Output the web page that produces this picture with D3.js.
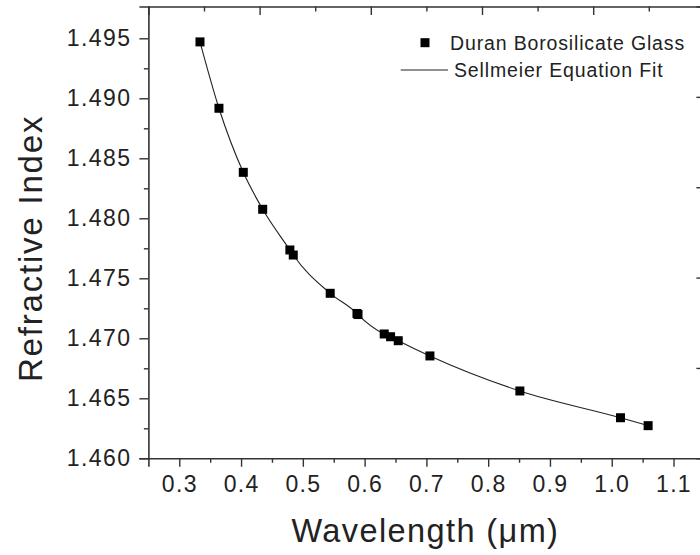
<!DOCTYPE html>
<html>
<head>
<meta charset="utf-8">
<script src="https://cdn.jsdelivr.net/npm/d3@7"></script>
<style>
  html, body { margin: 0; padding: 0; background: #fff; }
  svg { display: block; font-family: "Liberation Sans", Arial, sans-serif; }
  .axis path, .axis line { stroke: #333; }
  .axis text { fill: #222; }
</style>
</head>
<body>
<svg id="chart" width="700" height="555"></svg>
<script>
// Measured refractive index of Duran borosilicate glass at spectral lines (µm)
const wavelength = [0.3335, 0.3642, 0.4036, 0.4350, 0.4790, 0.4845, 0.5443, 0.5876, 0.5893,
                    0.6317, 0.6420, 0.6544, 0.7057, 0.8513, 1.0142, 1.0589];
const refractiveIndex = [1.49470, 1.48917, 1.48383, 1.48075, 1.47736, 1.47694, 1.47375, 1.47207, 1.47198,
                         1.47036, 1.47013, 1.46980, 1.46853, 1.46561, 1.46338, 1.46272];

// Axis ticks
const xTicks = [0.3, 0.4, 0.5, 0.6, 0.7, 0.8, 0.9, 1.0, 1.1];
const xMinor = [0.35, 0.45, 0.55, 0.65, 0.75, 0.85, 0.95, 1.05, 1.15];
const yTicks = [1.460, 1.465, 1.470, 1.475, 1.480, 1.485, 1.490, 1.495];
const yMinor = [1.4625, 1.4675, 1.4725, 1.4775, 1.4825, 1.4875, 1.4925];
const topTicks = [1, 2, 3, 4];
const topMinor = [0.5, 1.5, 2.5, 3.5, 4.5];
const rightTicks = [1, 2, 3, 4];

const legendLabels = ["Duran Borosilicate Glass", "Sellmeier Equation Fit"];

const svg = d3.select("#chart");
const plotLeft = 148.4, plotRight = 704.4, plotTop = 6.5, plotBottom = 458.3;

const x = d3.scaleLinear().domain([0.25, 1.15]).range([plotLeft, plotRight]);
const y = d3.scaleLinear().domain([1.46, 1.49765]).range([plotBottom, plotTop]);
const xTop = d3.scaleLinear().domain([0, 5]).range([plotLeft, plotRight]);
const yRight = d3.scaleLinear().domain([0, 5]).range([plotTop, plotBottom]);

const points = wavelength.map((w, i) => ({ w, n: refractiveIndex[i] }));

// Fit curve through the measurements
svg.append("path")
  .datum(points)
  .attr("fill", "none")
  .attr("stroke", "#222")
  .attr("stroke-width", 1.1)
  .attr("d", d3.line().x(d => x(d.w)).y(d => y(d.n)).curve(d3.curveMonotoneX));

// Data markers
const sq = 9;
svg.append("g").selectAll("rect")
  .data(points)
  .join("rect")
  .attr("x", d => x(d.w) - sq / 2)
  .attr("y", d => y(d.n) - sq / 2)
  .attr("width", sq)
  .attr("height", sq)
  .attr("fill", "#000");

// Bottom axis
const gx = svg.append("g").attr("class", "axis").attr("transform", `translate(0,${plotBottom})`);
gx.call(d3.axisBottom(x).tickValues(xTicks).tickSize(8.5).tickPadding(9)
  .tickFormat(d3.format(".1f")))
  .call(g => g.selectAll("text").attr("font-size", 23).attr("letter-spacing", "1.3px"));
gx.append("g").call(d3.axisBottom(x).tickValues(xMinor).tickSize(4.5).tickFormat(""))
  .call(g => g.select(".domain").remove());

// Left axis
const gy = svg.append("g").attr("class", "axis").attr("transform", `translate(${plotLeft},0)`);
gy.call(d3.axisLeft(y).tickValues(yTicks).tickSize(9).tickPadding(8)
  .tickFormat(d3.format(".3f")))
  .call(g => g.selectAll("text").attr("font-size", 23).attr("letter-spacing", "1.4px"));
gy.append("g").call(d3.axisLeft(y).tickValues(yMinor).tickSize(4.5).tickFormat(""))
  .call(g => g.select(".domain").remove());

// Top frame axis (inward ticks)
const gt = svg.append("g").attr("class", "axis").attr("transform", `translate(0,${plotTop})`);
gt.call(d3.axisBottom(xTop).tickValues(topTicks).tickSize(8.5).tickFormat(""));
gt.append("g").call(d3.axisBottom(xTop).tickValues(topMinor).tickSize(5).tickFormat(""))
  .call(g => g.select(".domain").remove());

// Right frame axis (inward ticks)
const gr = svg.append("g").attr("class", "axis").attr("transform", `translate(${plotRight},0)`);
gr.call(d3.axisLeft(yRight).tickValues(rightTicks).tickSize(8).tickFormat(""));

svg.selectAll(".axis path.domain").attr("stroke-width", 1.6);
svg.selectAll(".axis line").attr("stroke-width", 1.4);

// Axis titles
svg.append("text")
  .attr("x", (plotLeft + plotRight) / 2 - 1)
  .attr("y", 542)
  .attr("text-anchor", "middle")
  .attr("font-size", 32.5)
  .attr("letter-spacing", "1.4px")
  .attr("fill", "#222")
  .text("Wavelength (\u03bcm)");

svg.append("text")
  .attr("transform", `translate(42,${(plotTop + plotBottom) / 2 + 16}) rotate(-90)`)
  .attr("text-anchor", "middle")
  .attr("font-size", 33)
  .attr("letter-spacing", "1.8px")
  .attr("fill", "#222")
  .text("Refractive Index");

// Legend
const lg = svg.append("g");
lg.append("rect").attr("x", 425 - sq / 2).attr("y", 42.7 - sq / 2)
  .attr("width", sq).attr("height", sq).attr("fill", "#000");
lg.append("text").attr("x", 450).attr("y", 50).attr("font-size", 19.5)
  .attr("letter-spacing", "0.85px").attr("fill", "#222").text(legendLabels[0]);
lg.append("line").attr("x1", 400.7).attr("x2", 448).attr("y1", 70).attr("y2", 70)
  .attr("stroke", "#222").attr("stroke-width", 1.1);
lg.append("text").attr("x", 454).attr("y", 76.7).attr("font-size", 19.5)
  .attr("letter-spacing", "0.85px").attr("fill", "#222").text(legendLabels[1]);
</script>
</body>
</html>
